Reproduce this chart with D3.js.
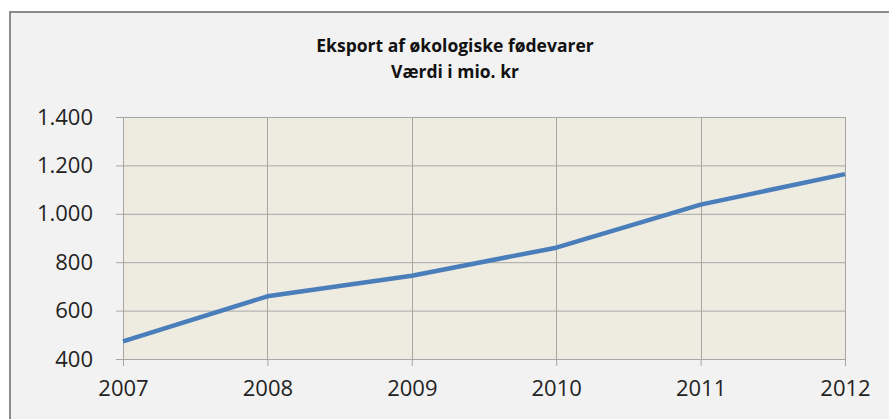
<!DOCTYPE html>
<html>
<head>
<meta charset="utf-8">
<script src="https://cdn.jsdelivr.net/npm/d3@7"></script>
<style>
  body { margin: 0; background: #ffffff; }
  svg { display: block; }
</style>
</head>
<body>
<div id="container"></div>
<script>
const years = [2007, 2008, 2009, 2010, 2011, 2012];
const values = [473, 659, 744, 860, 1038, 1164];
const yTicks = [400, 600, 800, 1000, 1200, 1400];
const titleLines = ['Eksport af økologiske fødevarer', 'Værdi i mio. kr'];

const W = 889, H = 419;
const margin = { top: 117, right: 44, bottom: 60, left: 123 };
const width = W - margin.left - margin.right;
const height = H - margin.top - margin.bottom;

const svg = d3.select('#container').append('svg')
  .attr('width', W)
  .attr('height', H);

// chart area with border (cropped at right and bottom like the original)
svg.append('rect')
  .attr('x', 10).attr('y', 12)
  .attr('width', W + 20).attr('height', H + 20)
  .attr('fill', '#f2f2f2')
  .attr('stroke', '#8c8c8c')
  .attr('stroke-width', 2);

const x = d3.scaleLinear().domain([2007, 2012]).range([0, width]);
const y = d3.scaleLinear().domain([400, 1400]).range([height, 0]);

const g = svg.append('g')
  .attr('transform', `translate(${margin.left}, ${margin.top})`);

g.append('rect')
  .attr('width', width)
  .attr('height', height)
  .attr('fill', '#eeece1');

// gridlines
g.append('g').selectAll('line')
  .data(yTicks).enter()
  .append('line')
  .attr('x1', 0).attr('x2', width)
  .attr('y1', (d) => y(d) + 0.5).attr('y2', (d) => y(d) + 0.5)
  .attr('stroke', '#a6a6a6');

g.append('g').selectAll('line')
  .data(years).enter()
  .append('line')
  .attr('x1', (d) => Math.round(x(d)) + 0.5).attr('x2', (d) => Math.round(x(d)) + 0.5)
  .attr('y1', 0).attr('y2', height)
  .attr('stroke', '#a6a6a6');

const yAxis = g.append('g')
  .call(d3.axisLeft(y).tickValues(yTicks).tickSize(7).tickPadding(23)
    .tickFormat((d) => d3.format(',')(d).replace(/,/g, '.')));

const xAxis = g.append('g')
  .attr('transform', `translate(0, ${height})`)
  .call(d3.axisBottom(x).tickValues(years).tickSize(7).tickPadding(14)
    .tickFormat(d3.format('d')));

[yAxis, xAxis].forEach((ax) => {
  ax.select('.domain').attr('stroke', '#a6a6a6');
  ax.selectAll('.tick line').attr('stroke', '#a6a6a6');
  ax.selectAll('.tick text')
    .attr('fill', '#222')
    .style('font-family', '"Open Sans", sans-serif')
    .style('font-size', '22px');
});

const line = d3.line()
  .x((d, i) => x(years[i]))
  .y((d) => y(d));

g.append('path')
  .datum(values)
  .attr('d', line)
  .attr('fill', 'none')
  .attr('stroke', '#4a7ebb')
  .attr('stroke-width', 4.5)
  .attr('stroke-linejoin', 'round');

svg.append('g').selectAll('text')
  .data(titleLines).enter()
  .append('text')
  .attr('x', 455)
  .attr('y', (d, i) => 52 + i * 26)
  .attr('text-anchor', 'middle')
  .style('font-family', '"Open Sans", sans-serif')
  .style('font-weight', 'bold')
  .style('font-size', '17.5px')
  .attr('fill', '#111')
  .text((d) => d);
</script>
</body>
</html>
